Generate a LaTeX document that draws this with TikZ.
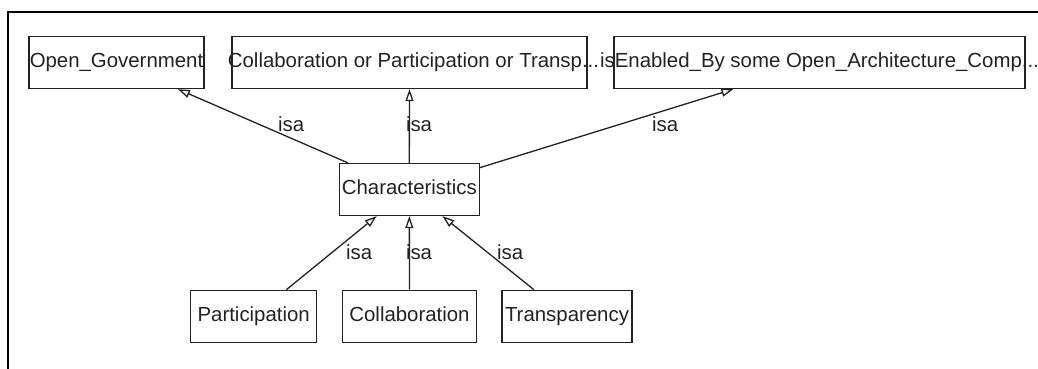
\documentclass[tikz,border=0pt]{standalone}
\usepackage{fontspec}
\setmainfont{Liberation Sans}
\usetikzlibrary{arrows.meta}
\definecolor{ink}{HTML}{222222}
\begin{document}
\begin{tikzpicture}[x=1pt,y=-1pt,
  font=\fontsize{20.4}{24}\selectfont,
  cls/.style={draw=ink, line width=1.3pt, minimum height=52pt, inner sep=0pt,
    text height=14.8pt, text depth=4.4pt, text=ink},
  isa/.style={draw=ink, line width=1.3pt,
    -{Triangle[open, length=12pt, width=8pt, fill=white]}},
  lbl/.style={inner sep=0pt, text=ink, anchor=base west}]
\useasboundingbox (0,0) rectangle (1038,369);
% frame
\draw[line width=2.2pt] (1040,12) -- (8,12) -- (8,371);

% classes (labels may run past the box edges)
\node[cls, minimum width=175pt] (og) at (116.5,62.5) {\makebox[0pt]{Open\_Government}};
\node[cls, minimum width=355pt] (cpt) at (409.5,62.5) {\makebox[0pt]{\hspace*{8pt}Collaboration or Participation or Transp...}};
\node[cls, minimum width=411pt] (ena) at (819.5,62.5) {\makebox[0pt]{isEnabled\_By some Open\_Architecture\_Comp...}};
\node[cls, minimum width=140pt] (chr) at (409.3,189.5) {\makebox[0pt]{Characteristics}};
\node[cls, minimum width=126pt] (par) at (253.7,316.3) {\makebox[0pt]{Participation}};
\node[cls, minimum width=134pt] (col) at (409.5,316.3) {\makebox[0pt]{Collaboration}};
\node[cls, minimum width=130pt] (tra) at (567,316.3) {\makebox[0pt]{Transparency}};

% subclass links
\draw[isa] (chr) -- (og);
\draw[isa] (chr.north) -- (cpt.south);
\draw[isa] (chr) -- (ena);
\draw[isa] (par) -- (chr);
\draw[isa] (col.north) -- (chr.south);
\draw[isa] (tra) -- (chr);

% link labels
\node[lbl] (l1) at (278,131) {isa};
\node[lbl] (l2) at (405.8,131) {isa};
\node[lbl] (l3) at (652,131) {isa};
\node[lbl] (l4) at (346,259) {isa};
\node[lbl] (l5) at (405.8,259) {isa};
\node[lbl] (l6) at (497,259) {isa};
\end{tikzpicture}
\end{document}
